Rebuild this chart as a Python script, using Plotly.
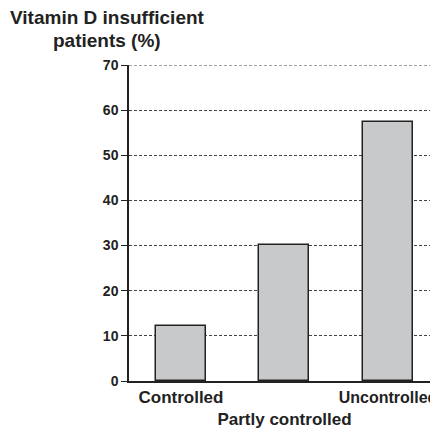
import plotly.graph_objects as go

categories = ["Controlled", "Partly controlled", "Uncontrolled"]
values = [12.2, 30.2, 57.4]
y_ticks = [0, 10, 20, 30, 40, 50, 60, 70]
tick_text = ["Controlled", "<br>Partly controlled",
             "<span style='font-size:16px'>Uncontrolled</span>"]
title_lines = ["Vitamin D insufficient", "patients (%)"]

# page body has an 8px margin, so the figure is drawn 8px right/down
W, H = 430, 426
ml, mr, mt, mb = 121, 0, 57, 53
FONT = "Liberation Sans, Arial, sans-serif"
GRID = dict(color="#444444", width=1, dash="3px,2px")

fig = go.Figure()
fig.add_trace(go.Bar(
    x=list(range(len(categories))), y=values, width=0.483,
    marker=dict(color="#c8c9cb", line=dict(color="#222222", width=1.5)),
    hoverinfo="skip",
))

fig.update_layout(
    width=W, height=H,
    margin=dict(l=ml, r=mr, t=mt, b=mb, autoexpand=False),
    plot_bgcolor="white", paper_bgcolor="white",
    showlegend=False,
    font=dict(family=FONT, color="#222222"),
    bargap=0,
)
fig.update_xaxes(
    range=[-0.502, 2.483], tickmode="array", tickvals=list(range(len(categories))),
    ticktext=tick_text, tickangle=0, ticklabeloverflow="allow",
    showgrid=False, zeroline=False,
    showline=True, linecolor="#222222", linewidth=1.5, ticks="",
    tickfont=dict(size=17, family=FONT, weight="bold"),
    automargin=False,
)
fig.update_yaxes(
    range=[0, 70], tickmode="array", tickvals=y_ticks,
    showgrid=True, gridcolor=GRID["color"], gridwidth=1, griddash=GRID["dash"],
    zeroline=False, showline=True, linecolor="#222222", linewidth=1.5,
    ticks="outside", ticklen=6, tickcolor="#222222", tickwidth=1,
    tickfont=dict(size=14, family=FONT, weight="bold"),
    automargin=False,
)
# top gridline (plotly omits the gridline at the range edge)
fig.add_shape(type="line", xref="paper", x0=0, x1=1, yref="y", y0=y_ticks[-1], y1=y_ticks[-1],
              line=GRID, layer="below")
ph = H - mt - mb
for line, ypx in zip(title_lines, [17 - 8, 40 - 8]):
    fig.add_annotation(
        text="<b>" + line + "</b>",
        xref="paper", yref="paper", x=(99 - ml) / (W - ml - mr), y=1 + (mt - ypx) / ph,
        xanchor="center", yanchor="middle", showarrow=False,
        font=dict(size=19, family=FONT, color="#222222"),
    )
fig.write_html("out.html")
